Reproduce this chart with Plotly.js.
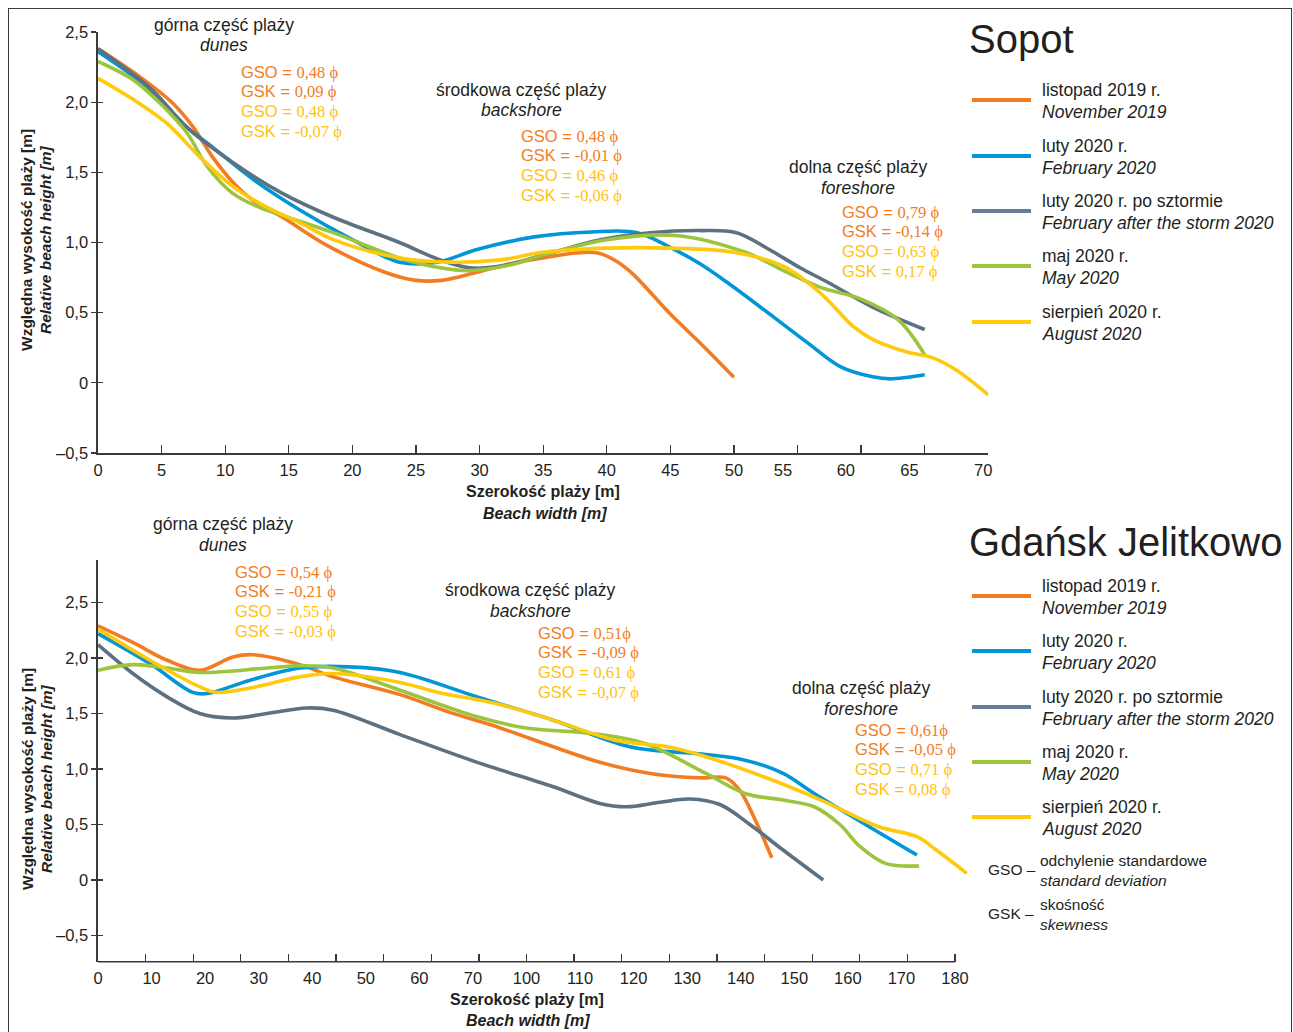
<!DOCTYPE html>
<html><head><meta charset="utf-8">
<script src="https://cdn.plot.ly/plotly-3.0.1.min.js"></script>
<style>
html,body{margin:0;padding:0;background:#fff;}
#wrap{position:relative;width:1293px;height:1032px;overflow:hidden;}
#chart{width:1293px;height:1032px;}
#frame{position:absolute;left:8px;top:8px;width:1284px;height:1100px;border:1.5px solid #3a3a3a;box-sizing:border-box;pointer-events:none;}
</style></head><body>
<div id="wrap"><div id="chart"></div><div id="frame"></div></div>
<script>
// ---------------- DATA ----------------
const seriesPl = ['listopad 2019 r.', 'luty 2020 r.', 'luty 2020 r. po sztormie', 'maj 2020 r.', 'sierpień 2020 r.'];
const seriesEn = ['November 2019', 'February 2020', 'February after the storm 2020', 'May 2020', 'August 2020'];

// Sopot (x: beach width [m], y: relative height [m])
const sopotNovX = [0, 3.3, 5.9, 7.5, 9.0, 10.6, 12.2, 14.5, 18.0, 22.5, 25.0, 27.0, 29.5, 32.0, 35.0, 37.5, 39.3, 40.7, 42.0, 45.0, 47.5, 50.0];
const sopotNovY = [2.38, 2.18, 1.99, 1.82, 1.61, 1.43, 1.30, 1.18, 0.98, 0.79, 0.73, 0.73, 0.78, 0.84, 0.89, 0.925, 0.925, 0.87, 0.78, 0.49, 0.27, 0.04];
const sopotFebX = [0, 4.1, 7.0, 9.0, 12.2, 15.9, 20.0, 23.7, 26.7, 29.8, 34.3, 38.8, 42.4, 45.1, 47.3, 49.4, 53.1, 55.8, 58.4, 60.9, 62.3, 65.0];
const sopotFebY = [2.36, 2.09, 1.82, 1.68, 1.45, 1.23, 1.02, 0.86, 0.86, 0.95, 1.04, 1.075, 1.07, 0.96, 0.85, 0.72, 0.47, 0.285, 0.114, 0.043, 0.028, 0.057];
const sopotStormX = [0, 4.1, 7.0, 10.6, 14.5, 18.5, 23.7, 26.9, 29.2, 31.6, 35.0, 39.5, 43.4, 47.3, 50.2, 52.4, 55.2, 57.3, 60.9, 65.0];
const sopotStormY = [2.38, 2.10, 1.82, 1.57, 1.35, 1.18, 1.00, 0.876, 0.82, 0.83, 0.91, 1.02, 1.07, 1.085, 1.07, 0.97, 0.82, 0.72, 0.54, 0.38];
const sopotMayX = [0, 2.75, 4.9, 7.0, 8.6, 10.6, 12.7, 14.9, 18.5, 23.7, 26.9, 29.2, 32.4, 35.0, 40.0, 45.4, 50.9, 53.9, 56.8, 59.9, 62.9, 65.0];
const sopotMayY = [2.29, 2.16, 1.99, 1.78, 1.54, 1.35, 1.25, 1.18, 1.07, 0.89, 0.82, 0.80, 0.84, 0.91, 1.02, 1.05, 0.93, 0.80, 0.68, 0.60, 0.45, 0.20];
const sopotAugX = [0, 2.75, 5.4, 8.0, 10.6, 13.3, 15.9, 18.5, 23.7, 27.7, 31.6, 35.0, 40.0, 45.0, 50.0, 53.9, 56.8, 59.4, 60.9, 63.6, 65.6, 67.5, 70.0];
const sopotAugY = [2.17, 2.02, 1.85, 1.61, 1.40, 1.25, 1.14, 1.02, 0.89, 0.86, 0.876, 0.93, 0.96, 0.96, 0.93, 0.83, 0.64, 0.40, 0.31, 0.22, 0.18, 0.09, -0.085];

// Gdańsk Jelitkowo (x in axis label units)
const gdaNovX = [0, 6.5, 12.9, 19.0, 25.2, 28.9, 37.7, 43.9, 56.4, 65.7, 75.1, 85.0, 93.7, 103.1, 112.4, 117.2, 119.8, 122.7, 125.8];
const gdaNovY = [2.29, 2.14, 1.98, 1.89, 2.01, 2.03, 1.94, 1.83, 1.67, 1.51, 1.37, 1.20, 1.06, 0.96, 0.92, 0.92, 0.81, 0.54, 0.20];
const gdaFebX = [0, 9.7, 17.7, 20.4, 28.4, 37.7, 47.0, 56.4, 70.8, 85.0, 99.3, 113.5, 120.8, 127.9, 133.7, 152.9];
const gdaFebY = [2.22, 1.95, 1.69, 1.68, 1.80, 1.91, 1.92, 1.87, 1.65, 1.44, 1.20, 1.13, 1.08, 0.96, 0.78, 0.225];
const gdaStormX = [0, 6.5, 12.9, 19.0, 25.2, 31.6, 39.0, 43.9, 56.4, 70.8, 85.0, 93.7, 98.6, 104.9, 110.5, 116.1, 121.7, 127.9, 135.4];
const gdaStormY = [2.12, 1.86, 1.65, 1.50, 1.46, 1.50, 1.55, 1.53, 1.31, 1.06, 0.84, 0.69, 0.66, 0.70, 0.73, 0.68, 0.50, 0.27, 0.0];
const gdaMayX = [0, 6.5, 12.9, 19.0, 31.6, 37.7, 43.9, 56.4, 70.8, 79.9, 92.2, 102.1, 113.5, 120.8, 127.9, 133.7, 138.5, 142.3, 147.0, 153.3];
const gdaMayY = [1.89, 1.94, 1.91, 1.87, 1.91, 1.93, 1.91, 1.71, 1.47, 1.37, 1.32, 1.23, 0.96, 0.78, 0.72, 0.66, 0.50, 0.30, 0.15, 0.126];
const gdaAugX = [0, 9.7, 19.0, 22.2, 28.4, 37.7, 43.9, 56.4, 63.5, 74.3, 85.0, 96.5, 106.4, 113.5, 124.3, 135.0, 145.8, 152.9, 156.5, 162.2];
const gdaAugY = [2.26, 1.98, 1.74, 1.69, 1.73, 1.83, 1.86, 1.78, 1.69, 1.59, 1.44, 1.26, 1.20, 1.11, 0.93, 0.72, 0.48, 0.39, 0.27, 0.06];

// tick labels
const yTickVals = [-0.5, 0, 0.5, 1, 1.5, 2, 2.5];
const yTickText = ['\u20130,5', '0', '0,5', '1,0', '1,5', '2,0', '2,5'];
const sopotTickVals = [0, 5, 10, 15, 20, 25, 30, 35, 40, 45, 50, 55, 60, 65, 70];
const sopotLabelText = ['0', '5', '10', '15', '20', '25', '30', '35', '40', '45', '50', '55', '60', '65', '70'];
const sopotLabelPos = [0, 5, 10, 15, 20, 25, 30, 35, 40, 45, 50, 53.85, 58.8, 63.8, 69.6];
const gdaLabelPos = [0, 10, 20, 30, 40, 50, 60, 70, 80, 90, 100, 110, 120, 130, 140, 150, 160];
const gdaLabelText = ['0', '10', '20', '30', '40', '50', '60', '70', '100', '110', '120', '130', '140', '150', '160', '170', '180'];
const gdaTickCount = 19;

// section statistics
const sectionPl = ['górna część plaży', 'środkowa część plaży', 'dolna część plaży'];
const sectionEn = ['dunes', 'backshore', 'foreshore'];
const statLabels = ['GSO', 'GSK', 'GSO', 'GSK'];
const sopotStats = [['0,48 ϕ', '0,09 ϕ', '0,48 ϕ', '-0,07 ϕ'], ['0,48 ϕ', '-0,01 ϕ', '0,46 ϕ', '-0,06 ϕ'], ['0,79 ϕ', '-0,14 ϕ', '0,63 ϕ', '0,17 ϕ']];
const gdaStats = [['0,54 ϕ', '-0,21 ϕ', '0,55 ϕ', '-0,03 ϕ'], ['0,51ϕ', '-0,09 ϕ', '0,61 ϕ', '-0,07 ϕ'], ['0,61ϕ', '-0,05 ϕ', '0,71 ϕ', '0,08 ϕ']];

// ---------------- STYLE ----------------
const W = 1293, H = 1032;
const SANS = '"Liberation Sans", Arial, sans-serif';
const INK = '#231f20';
const lineColors = ['#f37c22', '#0096d8', '#5d7180', '#9cc43d', '#ffc90c'];
const legendColors = ['#f37c22', '#0096d8', '#667d96', '#9cc43d', '#ffc90c'];
const statColors = ['#f37c22', '#f37c22', '#ffc20e', '#ffc20e'];
const LW = 3.6;
const px = v => v / W, py = v => 1 - v / H;

const sopotSeries = [[sopotNovX, sopotNovY], [sopotFebX, sopotFebY], [sopotStormX, sopotStormY], [sopotMayX, sopotMayY], [sopotAugX, sopotAugY]];
const gdaSeries = [[gdaNovX, gdaNovY], [gdaFebX, gdaFebY], [gdaStormX, gdaStormY], [gdaMayX, gdaMayY], [gdaAugX, gdaAugY]];

const traces = [];
sopotSeries.forEach((s, i) => traces.push({x: s[0], y: s[1], xaxis: 'x', yaxis: 'y', type: 'scatter', mode: 'lines', name: seriesPl[i],
  line: {color: lineColors[i], width: LW, shape: 'spline', smoothing: 1}, showlegend: false, hoverinfo: 'skip'}));
gdaSeries.forEach((s, i) => traces.push({x: s[0], y: s[1], xaxis: 'x2', yaxis: 'y2', type: 'scatter', mode: 'lines', name: seriesPl[i],
  line: {color: lineColors[i], width: LW, shape: 'spline', smoothing: 1}, showlegend: false, hoverinfo: 'skip'}));
// empty helper traces so overlay axes get drawn
[['x3', 'y'], ['x', 'y3'], ['x4', 'y2'], ['x2', 'y4']].forEach(a => traces.push({x: [], y: [], xaxis: a[0], yaxis: a[1], type: 'scatter', mode: 'lines', showlegend: false, hoverinfo: 'skip'}));

const tickFont = {family: SANS, size: 16.5, color: INK};
const topX = [px(98), px(988.3)];
const topY = [py(453), py(32)];
const botX = [px(98), px(98 + 163 * 857 / 160)];
const botY = [py(961.7), py(560)];
const gdaTickVals = Array.from({length: gdaTickCount}, (_, k) => k * 160 / (gdaTickCount - 1));

const layout = {
  width: W, height: H, margin: {l: 0, r: 0, t: 0, b: 0}, paper_bgcolor: '#fff', plot_bgcolor: 'rgba(0,0,0,0)',
  showlegend: false, font: {family: SANS, color: INK},
  xaxis: {domain: topX, anchor: 'y', range: [0, 70], tickvals: sopotTickVals, ticks: 'inside', ticklen: 8, tickwidth: 1.3, tickcolor: '#3a3a3a',
    showticklabels: false, showline: true, linecolor: '#3a3a3a', linewidth: 1.6, showgrid: false, zeroline: false},
  xaxis3: {domain: topX, anchor: 'y', overlaying: 'x', range: [0, 70], tickvals: sopotLabelPos, ticktext: sopotLabelText, ticks: '',
    tickfont: tickFont, ticklabelstandoff: 5, showline: false, showgrid: false, zeroline: false},
  yaxis: {domain: topY, anchor: 'x', range: [-0.5, 2.5], tickvals: yTickVals, ticktext: yTickText, ticks: 'outside', ticklen: 5, tickwidth: 1.3,
    tickcolor: '#3a3a3a', tickfont: tickFont, showline: true, linecolor: '#3a3a3a', linewidth: 1.6, showgrid: false, zeroline: false},
  yaxis3: {domain: topY, anchor: 'x', overlaying: 'y', range: [-0.5, 2.5], tickvals: yTickVals, ticks: 'inside', ticklen: 5, tickwidth: 1.3,
    tickcolor: '#3a3a3a', showticklabels: false, showline: false, showgrid: false, zeroline: false},
  xaxis2: {domain: botX, anchor: 'y2', range: [0, 163], tickvals: gdaTickVals, ticks: 'inside', ticklen: 8, tickwidth: 1.3, tickcolor: '#3a3a3a',
    showticklabels: false, showline: false, showgrid: false, zeroline: false},
  xaxis4: {domain: botX, anchor: 'y2', overlaying: 'x2', range: [0, 163], tickvals: gdaLabelPos, ticktext: gdaLabelText, ticks: '',
    tickfont: tickFont, ticklabelstandoff: 5, showline: false, showgrid: false, zeroline: false},
  yaxis2: {domain: botY, anchor: 'x2', range: [-0.736, 2.883], tickvals: yTickVals, ticktext: yTickText, ticks: 'outside', ticklen: 5, tickwidth: 1.3,
    tickcolor: '#3a3a3a', tickfont: tickFont, showline: true, linecolor: '#3a3a3a', linewidth: 1.6, showgrid: false, zeroline: false},
  yaxis4: {domain: botY, anchor: 'x2', overlaying: 'y2', range: [-0.736, 2.883], tickvals: yTickVals, ticks: 'inside', ticklen: 5, tickwidth: 1.3,
    tickcolor: '#3a3a3a', showticklabels: false, showline: false, showgrid: false, zeroline: false},
  shapes: [], annotations: []
};

// bottom x axis line (ends at the last tick)
layout.shapes.push({type: 'line', xref: 'x2', yref: 'y2 domain', x0: 0, x1: 160, y0: 0, y1: 0, line: {color: '#3a3a3a', width: 1.6}, layer: 'above'});

function ann(text, x, y, opt) {
  opt = opt || {};
  layout.annotations.push({text: text, x: px(x), y: py(y), xref: 'paper', yref: 'paper', showarrow: false,
    xanchor: opt.xa || 'center', yanchor: 'middle', textangle: opt.angle || 0,
    font: {family: SANS, size: opt.size || 17, color: opt.color || INK}});
}
const serif = v => '<span style="font-family:Liberation Serif,Times New Roman,serif">' + v + '</span>';

// axis titles
[240, 779].forEach(c => {
  ann('<b>Względna wysokość plaży [m]</b>', 27, c, {angle: -90, size: 15.5});
  ann('<b><i>Relative beach height [m]</i></b>', 46, c, {angle: -90, size: 15.5});
});
ann('<b>Szerokość plaży [m]</b>', 543, 492, {size: 16});
ann('<b><i>Beach width [m]</i></b>', 545, 513, {size: 16});
ann('<b>Szerokość plaży [m]</b>', 527, 999, {size: 16});
ann('<b><i>Beach width [m]</i></b>', 528, 1020, {size: 16});

// section annotations
const sopotBlocks = [[224, 25, 239, 72], [521, 90, 519, 136], [858, 167, 840, 212]];
const gdaBlocks = [[223, 524, 233, 572], [530, 590, 536, 633], [861, 688, 853, 730]];
function blocks(pos, stats) {
  pos.forEach((b, i) => {
    ann(sectionPl[i], b[0], b[1], {size: 17.5});
    ann('<i>' + sectionEn[i] + '</i>', b[0], b[1] + 20.5, {size: 17.5});
    stats[i].forEach((v, j) => ann(statLabels[j] + ' = ' + serif(v), b[2], b[3] + j * 19.8, {xa: 'left', size: 16.5, color: statColors[j]}));
  });
}
blocks(sopotBlocks, sopotStats);
blocks(gdaBlocks, gdaStats);

// legends
function legend(title, titleY, lineYs) {
  ann(title, 967, titleY, {xa: 'left', size: 40});
  lineYs.forEach((ly, i) => {
    layout.shapes.push({type: 'line', xref: 'paper', yref: 'paper', x0: px(972), x1: px(1031), y0: py(ly), y1: py(ly), line: {color: legendColors[i], width: 4}});
    ann(seriesPl[i], 1040, ly - 10, {xa: 'left', size: 17.5});
    ann('<i>' + seriesEn[i] + '</i>', 1040, ly + 12, {xa: 'left', size: 17.5});
  });
}
legend('Sopot', 39, [100, 156, 211, 266, 322]);
legend('Gdańsk Jelitkowo', 542, [596, 651, 707, 762, 817]);

ann('GSO –', 986, 869, {xa: 'left', size: 15.5});
ann('odchylenie standardowe', 1038, 860, {xa: 'left', size: 15.5});
ann('<i>standard deviation</i>', 1038, 880, {xa: 'left', size: 15.5});
ann('GSK –', 986, 913, {xa: 'left', size: 15.5});
ann('skośność', 1038, 904, {xa: 'left', size: 15.5});
ann('<i>skewness</i>', 1038, 924, {xa: 'left', size: 15.5});

Plotly.newPlot('chart', traces, layout, {staticPlot: true, displayModeBar: false});
</script>
</body></html>
